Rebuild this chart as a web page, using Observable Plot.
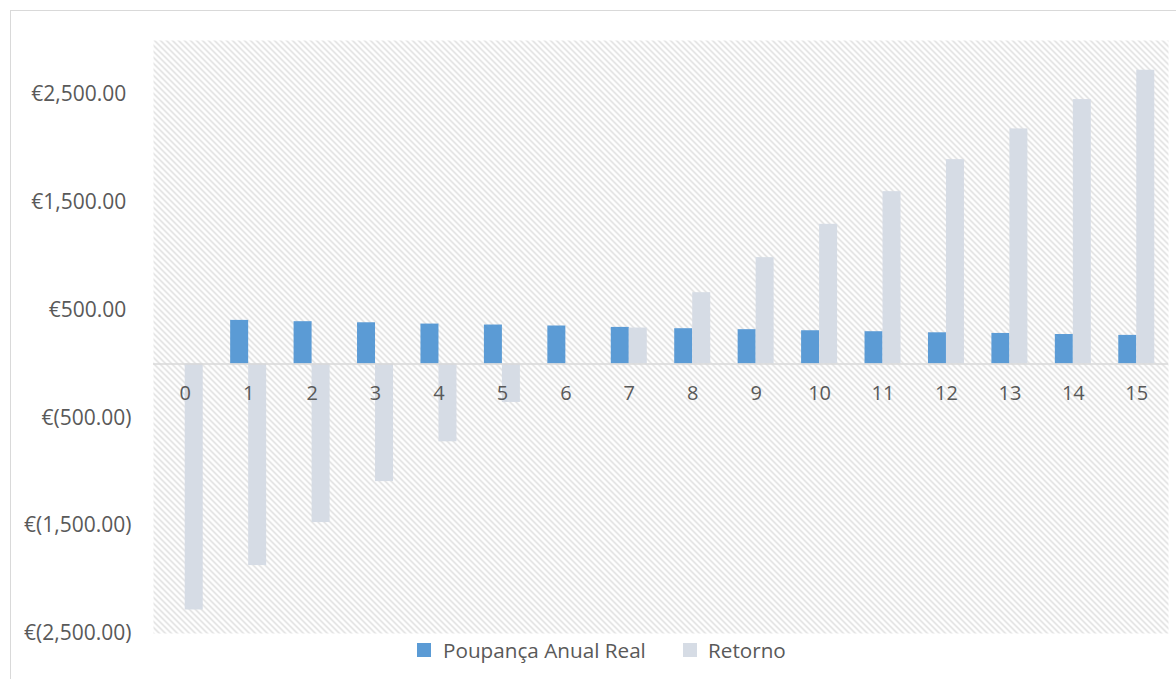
<!DOCTYPE html>
<html><head><meta charset="utf-8">
<script src="https://cdn.jsdelivr.net/npm/d3@7"></script>
<script src="https://cdn.jsdelivr.net/npm/@observablehq/plot@0.6"></script>
<style>
body{margin:0;background:#fff;overflow:hidden;font-family:"Open Sans",sans-serif;}
#wrap{position:relative;width:1176px;height:679px;overflow:hidden;background:#fff;}
#border{position:absolute;left:10px;top:10px;width:1200px;height:700px;border:1.5px solid #d9d9d9;box-sizing:border-box;}
#chart{position:absolute;left:0;top:0;}
#legend{position:absolute;left:0;top:636px;width:1176px;height:28px;color:#595959;font-size:20.7px;line-height:28px;}
.sw{position:absolute;top:7px;width:14px;height:14px;}
.lt{position:absolute;top:0;white-space:nowrap;}
</style>
</head><body>
<div id="wrap">
  <div id="border"></div>
  <div id="chart"></div>
  <div id="legend"></div>
</div>
<script>
const anos = [0,1,2,3,4,5,6,7,8,9,10,11,12,13,14,15];
const poupanca = [0,404,392,382,370,361,352,339,327,318,308,299,289,283,273,265];
const retorno = [-2282,-1870,-1471,-1091,-722,-357,0,333,661,986,1295,1598,1895,2180,2452,2724];
const yTicks = [-2500,-1500,-500,500,1500,2500];
const seriesNames = ["Poupança Anual Real","Retorno"];
const seriesColors = ["#5b9bd5","#d6dce5"];

const dataP = anos.map((a,i)=>({ano:a, v:poupanca[i]}));
const dataR = anos.map((a,i)=>({ano:a, v:retorno[i]}));
const fmt = d3.format(",.2f");
const tickFmt = v => v < 0 ? `€(${fmt(-v)})` : `€${fmt(v)}\u2005`;

const svg = Plot.plot({
  width: 1176,
  height: 650,
  marginTop: 40,
  marginBottom: 17,
  marginLeft: 153,
  marginRight: 8,
  style: {fontFamily: '"Open Sans", sans-serif', fontSize: "20px", color: "#595959", background: "transparent", overflow: "visible"},
  x: {domain: anos, paddingInner: 0.4325, paddingOuter: 0.21625, round: false, axis: null},
  y: {domain: [-2500, 3000], axis: null},
  marks: [
    Plot.frame({fill: "url(#hatch)", stroke: "none"}),
    Plot.barY(dataP, {x: "ano", y: "v", fill: seriesColors[0], insetRight: 18}),
    Plot.barY(dataR, {x: "ano", y: "v", fill: seriesColors[1], insetLeft: 18}),
    Plot.ruleY([0], {stroke: "#d9d9d9", strokeWidth: 1.5}),
    Plot.axisY({ticks: yTicks, tickSize: 0, tickPadding: 22, tickFormat: tickFmt, label: null, fill: "#595959", fontSize: 21}),
    Plot.text(anos, {x: d => d, y: () => 0, dy: 30, text: d => String(d), fill: "#595959", fontSize: 20})
  ]
});

const ns = "http://www.w3.org/2000/svg";
const defs = document.createElementNS(ns, "defs");
const pat = document.createElementNS(ns, "pattern");
pat.setAttribute("id", "hatch");
pat.setAttribute("patternUnits", "userSpaceOnUse");
pat.setAttribute("width", "6");
pat.setAttribute("height", "6");
const bg = document.createElementNS(ns, "rect");
bg.setAttribute("width", "6"); bg.setAttribute("height", "6"); bg.setAttribute("fill", "#ffffff");
pat.appendChild(bg);
const p = document.createElementNS(ns, "path");
p.setAttribute("d", "M-1,-1L7,7M-1,5L1,7M5,-1L7,1");
p.setAttribute("stroke", "#d9d9d9");
p.setAttribute("stroke-width", "1.3");
pat.appendChild(p);
defs.appendChild(pat);
svg.insertBefore(defs, svg.firstChild);
document.getElementById("chart").appendChild(svg);

const leg = document.getElementById("legend");
const items = [
  {sw: 417, tx: 443},
  {sw: 683, tx: 708}
];
items.forEach((it, i) => {
  const s = document.createElement("div");
  s.className = "sw"; s.style.left = it.sw + "px"; s.style.background = seriesColors[i];
  leg.appendChild(s);
  const t = document.createElement("div");
  t.className = "lt"; t.style.left = it.tx + "px"; t.textContent = seriesNames[i];
  leg.appendChild(t);
});
</script>
</body></html>
